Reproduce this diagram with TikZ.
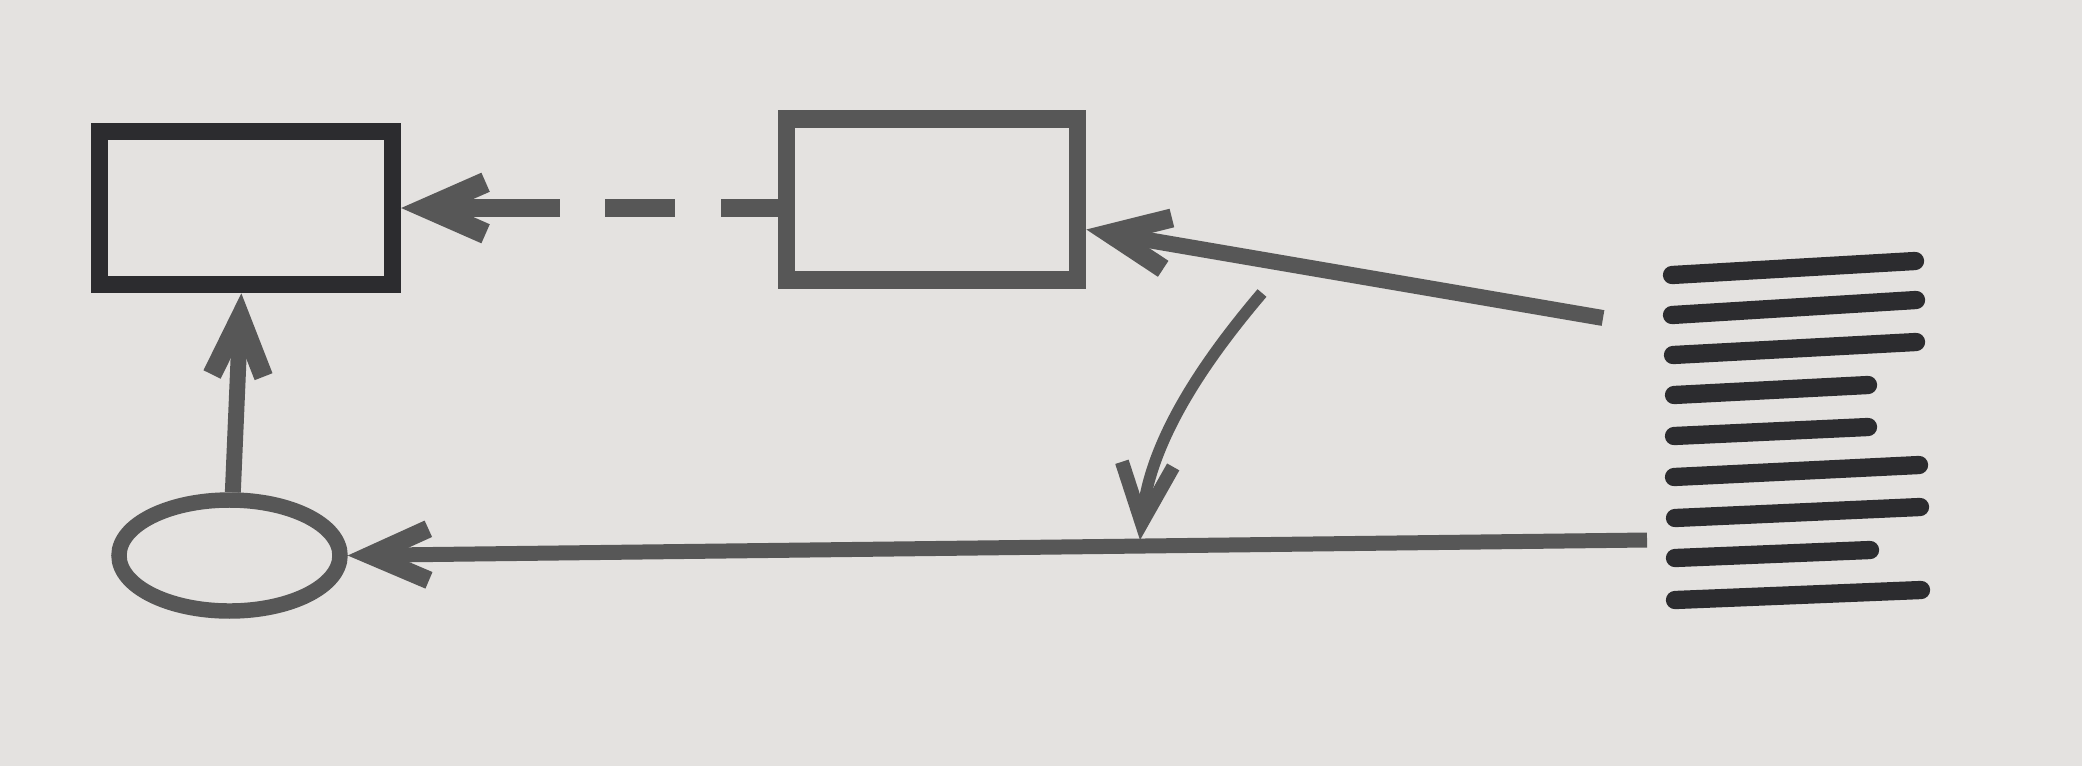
\documentclass[tikz,border=0pt]{standalone}
\usetikzlibrary{arrows.meta,shapes.geometric,calc}
\definecolor{paper}{HTML}{E4E2E0}
\definecolor{ink}{HTML}{2C2C2F}
\definecolor{tone}{HTML}{575757}
\begin{document}
\begin{tikzpicture}[x=0.015cm,y=-0.015cm,
  barb/.style={-{Straight Barb[length=25pt,width=22pt,line width=0pt 1.2]}},
  boxblack/.style={draw=ink,line width=7.4pt,inner sep=0pt,minimum width=4.395cm,minimum height=2.3cm},
  boxgrey/.style={draw=tone,line width=7.6pt,inner sep=0pt,minimum width=4.365cm,minimum height=2.415cm},
  ovalgrey/.style={draw=tone,line width=6.6pt,ellipse,inner sep=0pt,minimum width=3.315cm,minimum height=1.665cm},
  conn/.style={draw=tone,barb},
  listline/.style={draw=ink,line width=7.8pt,line cap=round}]
\fill[paper] (0,0) rectangle (2082,766);
% nodes
\node[boxblack] (lrect) at (246,208) {};
\node[boxgrey] (mrect) at (932,199.5) {};
\node[ovalgrey] (ell) at (229.5,555.5) {};
% list icon
\draw[listline] (1672,275) -- (1915,261);
\draw[listline] (1672,315) -- (1916,300);
\draw[listline] (1673,355) -- (1916,342);
\draw[listline] (1674,395) -- (1868,385);
\draw[listline] (1674,436) -- (1868,427);
\draw[listline] (1674,477) -- (1919,465);
\draw[listline] (1675,518) -- (1920,507);
\draw[listline] (1675,558) -- (1870,550);
\draw[listline] (1675,600) -- (1921,590);
% free ends
\coordinate (lsrc) at (1603,318);
\coordinate (hsrc) at (1647,540);
\coordinate (csrc) at (1262,293);
\coordinate (cend) at (1140,540);
% connectors
\draw[conn,line width=7.4pt,dash pattern=on 24.3pt off 19.6pt on 29.9pt off 19.2pt on 85pt off 1pt]
  (mrect.west |- lrect.east) -- (lrect.east);
\draw[conn,line width=6.8pt] (lsrc) -- ($(mrect.east)+(0,30)$);
\draw[conn,line width=6.4pt] (hsrc) -- (ell.east);
\draw[conn,line width=6.8pt] ([xshift=0.05cm]ell.north) -- ([xshift=-0.07cm]lrect.south);
\draw[conn,line width=5pt] (csrc) .. controls (1205,360) and (1150,440) .. (cend);
\end{tikzpicture}
\end{document}
